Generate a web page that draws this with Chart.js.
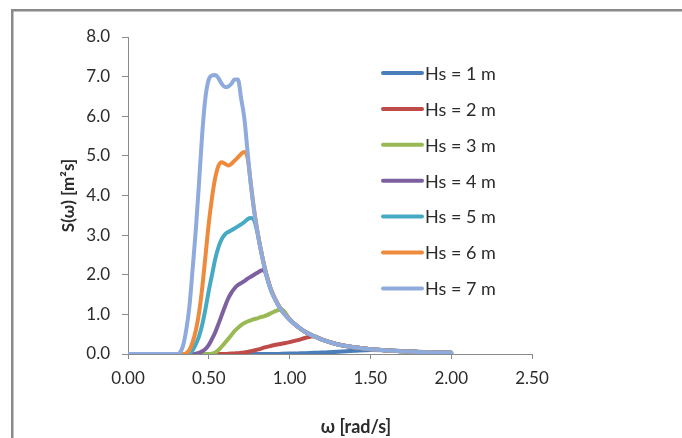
<!DOCTYPE html>
<html>
<head>
<meta charset="utf-8">
<script src="https://cdn.jsdelivr.net/npm/chart.js@4.4.1/dist/chart.umd.min.js"></script>
<style>
  html, body { margin: 0; padding: 0; background: #fff; }
  #spectrum { display: block; }
</style>
</head>
<body>
<canvas id="spectrum" width="682" height="438"></canvas>
<script>
// omega grid [rad/s] - finer around the peaks
const omega = [0, 0.30, 0.32, 0.34, 0.36, 0.38, 0.40, 0.42, 0.44, 0.46, 0.48, 0.50, 0.52, 0.54, 0.56, 0.58,
  0.60, 0.62, 0.64, 0.66, 0.68, 0.70, 0.72, 0.74, 0.76, 0.78, 0.80, 0.82, 0.84, 0.86, 0.88, 0.90,
  0.95, 1.00, 1.05, 1.10, 1.15, 1.20, 1.30, 1.40, 1.50, 1.60, 1.70, 1.80, 1.90, 2.00];

// S(omega) [m2s]
const hs1 = [0, 0, 0, 0, 0, 0, 0, 0, 0, 0, 0, 0, 0, 0, 0, 0,
  0, 0, 0, 0, 0, 0, 0, 0, 0, 0, 0, 0, 0, 0, 0, 0,
  0.005, 0.01, 0.015, 0.02, 0.03, 0.035, 0.055, 0.08, 0.1, 0.095, 0.075, 0.055, 0.04, 0.03];
const hs2 = [0, 0, 0, 0, 0, 0, 0, 0, 0, 0, 0, 0, 0, 0, 0, 0,
  0, 0.005, 0.01, 0.015, 0.02, 0.03, 0.04, 0.05, 0.07, 0.09, 0.11, 0.13, 0.16, 0.18, 0.2, 0.22,
  0.26, 0.3, 0.35, 0.41, 0.45, 0.37, 0.24, 0.17, 0.12, 0.09, 0.07, 0.05, 0.04, 0.03];
const hs3 = [0, 0, 0, 0, 0, 0, 0, 0, 0, 0, 0, 0, 0.01, 0.04, 0.1, 0.19,
  0.28, 0.38, 0.48, 0.58, 0.66, 0.73, 0.78, 0.82, 0.85, 0.88, 0.9, 0.93, 0.95, 0.98, 1.02, 1.06,
  1.13, 0.88, 0.69, 0.55, 0.45, 0.36, 0.24, 0.17, 0.12, 0.09, 0.07, 0.05, 0.04, 0.03];
const hs4 = [0, 0, 0, 0, 0, 0, 0, 0.01, 0.03, 0.07, 0.13, 0.23, 0.38, 0.55, 0.76, 0.98,
  1.2, 1.4, 1.55, 1.66, 1.74, 1.79, 1.84, 1.9, 1.95, 2.0, 2.05, 2.1, 2.12, 1.95, 1.68, 1.47,
  1.1, 0.87, 0.69, 0.55, 0.45, 0.36, 0.24, 0.17, 0.12, 0.09, 0.07, 0.05, 0.04, 0.03];
const hs5 = [0, 0, 0, 0, 0, 0.02, 0.1, 0.25, 0.45, 0.75, 1.15, 1.6, 2.0, 2.4, 2.7, 2.9,
  3.02, 3.08, 3.12, 3.17, 3.22, 3.27, 3.33, 3.4, 3.43, 3.38, 3.08, 2.67, 2.28, 1.94, 1.67, 1.47,
  1.1, 0.87, 0.69, 0.55, 0.45, 0.36, 0.24, 0.17, 0.12, 0.09, 0.07, 0.05, 0.04, 0.03];
const hs6 = [0, 0, 0, 0, 0.02, 0.1, 0.3, 0.6, 1.05, 1.7, 2.5, 3.3, 3.95, 4.45, 4.75, 4.84,
  4.8, 4.76, 4.8, 4.88, 4.96, 5.05, 5.1, 4.95, 4.3, 3.66, 3.13, 2.68, 2.29, 1.95, 1.68, 1.48,
  1.11, 0.88, 0.69, 0.55, 0.45, 0.36, 0.24, 0.17, 0.12, 0.09, 0.07, 0.05, 0.04, 0.03];
const hs7 = [0, 0, 0.03, 0.2, 0.6, 1.2, 2.15, 3.15, 4.35, 5.6, 6.5, 6.93, 7.03, 7.04, 6.96, 6.82,
  6.74, 6.75, 6.82, 6.93, 6.93, 6.45, 5.95, 5.1, 4.28, 3.62, 3.1, 2.65, 2.27, 1.93, 1.66, 1.46,
  1.1, 0.87, 0.69, 0.55, 0.45, 0.36, 0.24, 0.17, 0.12, 0.09, 0.07, 0.05, 0.04, 0.03];

const seriesLabels = ["Hs = 1 m", "Hs = 2 m", "Hs = 3 m", "Hs = 4 m", "Hs = 5 m", "Hs = 6 m", "Hs = 7 m"];
const seriesValues = [hs1, hs2, hs3, hs4, hs5, hs6, hs7];
const seriesColors = ["#4a7ebb", "#be4b48", "#98b954", "#7d60a0", "#46aac5", "#ee8a3c", "#8faadc"];

const xTicks = [0, 0.5, 1.0, 1.5, 2.0, 2.5];
const yTicks = [0, 1, 2, 3, 4, 5, 6, 7, 8];

document.addEventListener("DOMContentLoaded", function () {
  const canvas = document.getElementById("spectrum");
  const ctx = canvas.getContext("2d");
  const axisGray = "#8a8a8a";
  const textColor = "#2b2b2b";

  const datasets = seriesValues.map((vals, i) => ({
    label: seriesLabels[i],
    data: omega.map((w, k) => ({ x: w, y: vals[k] })),
    borderColor: seriesColors[i],
    backgroundColor: seriesColors[i],
    borderWidth: 4,
    pointRadius: 0,
    fill: false,
    cubicInterpolationMode: "monotone",
    borderCapStyle: "round",
    borderJoinStyle: "round",
    order: seriesValues.length - i, // Hs = 7 m on top, like Excel
  }));

  // white page + the grey chart frame (cut off at right/bottom)
  const framePlugin = {
    id: "frame",
    beforeDraw(chart) {
      const c = chart.ctx;
      c.save();
      c.fillStyle = "#fff";
      c.fillRect(0, 0, chart.width, chart.height);
      c.fillStyle = axisGray;
      c.fillRect(11, 9, chart.width, 2.5);
      c.fillRect(11, 9, 2.5, chart.height);
      c.restore();
    },
  };

  // legend sits inside the plot on the right, x-title is off-centre
  const sideLegend = {
    id: "sideLegend",
    afterDraw(chart) {
      const c = chart.ctx;
      c.save();
      chart.data.datasets.forEach((ds, i) => {
        const y = 73 + i * 35.9;
        c.strokeStyle = ds.borderColor;
        c.lineWidth = 4;
        c.lineCap = "round";
        c.beginPath();
        c.moveTo(383, y);
        c.lineTo(422, y);
        c.stroke();
        c.fillStyle = textColor;
        c.font = "18px Lato";
        c.textBaseline = "middle";
        c.textAlign = "left";
        c.fillText(ds.label, 425, y + 1);
      });
      c.font = "bold 18px Lato";
      c.textAlign = "center";
      c.textBaseline = "middle";
      c.fillText("ω [rad/s]", 356, 427);
      c.restore();
    },
  };

  new Chart(ctx, {
    type: "line",
    data: { datasets },
    plugins: [framePlugin, sideLegend],
    options: {
      responsive: false,
      animation: false,
      devicePixelRatio: 1,
      layout: { padding: { left: 0, top: 37, right: 150, bottom: 0 } },
      plugins: {
        legend: { display: false },
        tooltip: { enabled: false },
      },
      scales: {
        x: {
          type: "linear",
          min: 0,
          max: 2.5,
          afterFit: (s) => { s.height = 84; },
          afterBuildTicks: (s) => { s.ticks = xTicks.map((v) => ({ value: v })); },
          ticks: {
            color: textColor,
            font: { family: "Lato", size: 17 },
            padding: 9,
            maxRotation: 0,
            callback: (v) => Number(v).toFixed(2),
          },
          grid: { drawOnChartArea: false, drawTicks: true, tickLength: 5, color: axisGray },
          border: { display: true, color: axisGray, width: 1 },
        },
        y: {
          type: "linear",
          min: 0,
          max: 8,
          afterFit: (s) => { s.width = 128; },
          afterBuildTicks: (s) => { s.ticks = yTicks.map((v) => ({ value: v })); },
          ticks: {
            color: textColor,
            font: { family: "Lato", size: 17 },
            padding: 12,
            callback: (v) => Number(v).toFixed(1),
          },
          grid: { drawOnChartArea: false, drawTicks: true, tickLength: 6, color: axisGray },
          border: { display: true, color: axisGray, width: 1 },
          title: {
            display: true,
            text: "S(ω) [m²s]",
            color: textColor,
            font: { family: "Lato", size: 17, weight: "bold" },
            padding: { top: 58, bottom: 0 },
          },
        },
      },
    },
  });
});
</script>
</body>
</html>
